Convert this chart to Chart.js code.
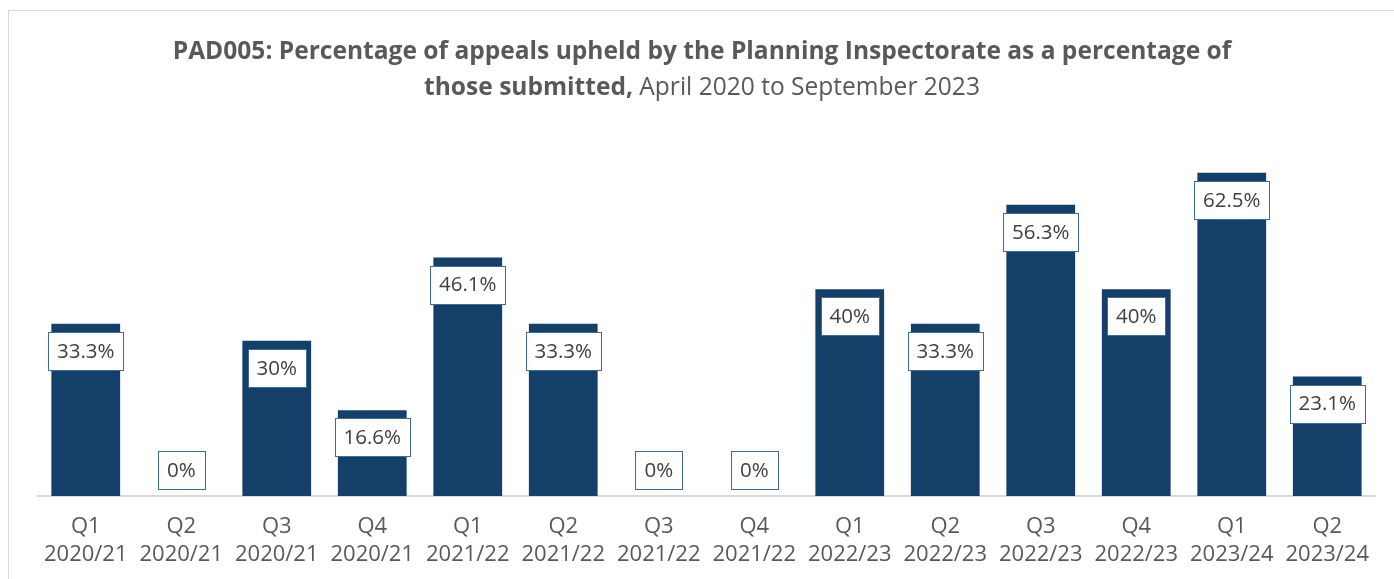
<!DOCTYPE html>
<html>
<head>
<meta charset="utf-8">
<script src="https://cdn.jsdelivr.net/npm/chart.js@4/dist/chart.umd.min.js"></script>
<style>
  html, body { margin: 0; padding: 0; background: #ffffff; overflow: hidden; width: 1394px; height: 579px; }
  #frame { position: absolute; left: 8px; top: 10px; width: 1420px; height: 620px; border: 1.5px solid #d9d9d9; box-sizing: border-box; }
  #c { position: absolute; left: 0; top: 0; }
</style>
</head>
<body>
<div id="frame"></div>
<canvas id="c" width="1394" height="579"></canvas>
<script>
const quarters = ['Q1','Q2','Q3','Q4','Q1','Q2','Q3','Q4','Q1','Q2','Q3','Q4','Q1','Q2'];
const years = ['2020/21','2020/21','2020/21','2020/21','2021/22','2021/22','2021/22','2021/22','2022/23','2022/23','2022/23','2022/23','2023/24','2023/24'];
const upheldPct = [33.3, 0, 30, 16.6, 46.1, 33.3, 0, 0, 40, 33.3, 56.3, 40, 62.5, 23.1];
const titleBold1 = 'PAD005: Percentage of appeals upheld by the Planning Inspectorate as a percentage of';
const titleBold2 = 'those submitted,';
const titleNormal2 = ' April 2020 to September 2023';

const FONT = '"Open Sans", "Noto Sans", sans-serif';

const titlePlugin = {
  id: 'titlePlugin',
  afterDraw(chart) {
    const ctx = chart.ctx;
    ctx.save();
    ctx.fillStyle = '#595959';
    ctx.textBaseline = 'alphabetic';
    ctx.font = 'bold 100px ' + FONT;
    const w100 = ctx.measureText(titleBold1).width;
    const size = 100 * 1059 / w100;
    const cx = 702;
    ctx.font = 'bold ' + size + 'px ' + FONT;
    ctx.textAlign = 'center';
    ctx.fillText(titleBold1, cx, 59);
    const wb = ctx.measureText(titleBold2).width;
    ctx.font = size + 'px ' + FONT;
    const wn = ctx.measureText(titleNormal2).width;
    const start = cx - (wb + wn) / 2;
    ctx.textAlign = 'left';
    ctx.font = 'bold ' + size + 'px ' + FONT;
    ctx.fillText(titleBold2, start, 95);
    ctx.font = size + 'px ' + FONT;
    ctx.fillText(titleNormal2, start + wb, 95);
    ctx.restore();
  }
};

const labelPlugin = {
  id: 'labelPlugin',
  afterDatasetsDraw(chart) {
    const ctx = chart.ctx;
    const meta = chart.getDatasetMeta(0);
    const data = chart.data.datasets[0].data;
    ctx.save();
    ctx.font = '20.5px ' + FONT;
    ctx.textAlign = 'center';
    ctx.textBaseline = 'middle';
    meta.data.forEach((bar, i) => {
      const v = data[i];
      const txt = v + '%';
      const tw = ctx.measureText(txt).width;
      const bw = Math.round(tw + 18), bh = 38;
      const cy = v > 0 ? bar.y + 27 : bar.base - 26;
      const x0 = Math.round(bar.x - bw / 2) + 0.5, y0 = Math.round(cy - bh / 2) + 0.5;
      ctx.fillStyle = '#ffffff';
      ctx.fillRect(x0, y0, bw, bh);
      ctx.strokeStyle = '#3f6d99';
      ctx.lineWidth = 1;
      ctx.strokeRect(x0, y0, bw, bh);
      ctx.fillStyle = '#404040';
      ctx.fillText(txt, bar.x, cy + 1);
    });
    ctx.restore();
  }
};

new Chart(document.getElementById('c'), {
  type: 'bar',
  data: {
    labels: quarters.map((q, i) => [q, years[i]]),
    datasets: [{
      data: upheldPct,
      backgroundColor: '#143f68',
      borderWidth: 0,
      barPercentage: 0.72,
      categoryPercentage: 1.0
    }]
  },
  options: {
    responsive: false,
    animation: false,
    devicePixelRatio: 1,
    layout: { padding: { left: 38, right: 19, top: 134, bottom: 0 } },
    plugins: { legend: { display: false }, tooltip: { enabled: false }, title: { display: false } },
    scales: {
      x: {
        grid: { display: false, drawTicks: false, tickLength: 0 },
        border: { display: true, color: '#d9d9d9', width: 2 },
        ticks: { color: '#595959', font: { family: FONT, size: 22, lineHeight: 1.27 }, padding: 17, maxRotation: 0, autoSkip: false },
        afterFit(scale) { scale.height = 83; }
      },
      y: { display: false, min: 0, max: 70 }
    }
  },
  plugins: [titlePlugin, labelPlugin]
});
</script>
</body>
</html>
